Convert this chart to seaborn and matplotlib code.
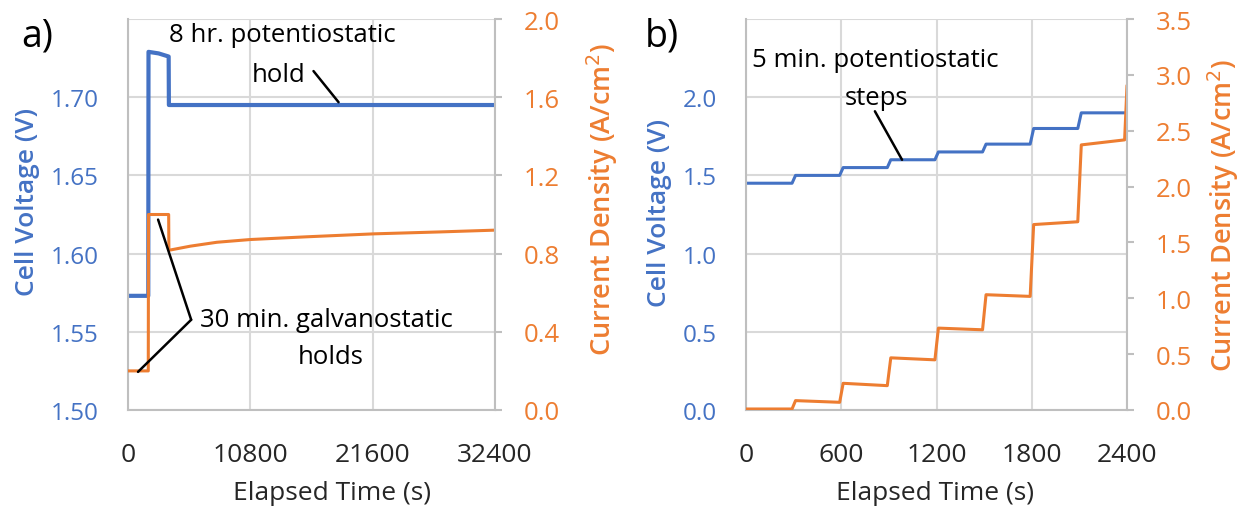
import matplotlib
matplotlib.use("Agg")
import matplotlib.pyplot as plt
import seaborn as sns
import pandas as pd

# ---------------- data ----------------
# panel a: potentiostatic / galvanostatic holds
time_a_voltage = [0, 600, 1200, 1790, 1810, 2700, 3590, 3610, 8000, 16000, 24000, 32400]
voltage_a = [1.573, 1.573, 1.573, 1.573, 1.729, 1.728, 1.726, 1.695, 1.695, 1.695, 1.695, 1.695]
time_a_current = [0, 1790, 1810, 3590, 3610, 5500, 7850, 10800, 15800, 21700, 27600, 32400]
current_a = [0.2, 0.2, 1.0, 1.0, 0.817, 0.838, 0.858, 0.872, 0.886, 0.901, 0.911, 0.92]

# panel b: 5 min potentiostatic steps
time_b = [0, 290, 312, 590, 612, 890, 912, 1190, 1212, 1490, 1512, 1790, 1812,
          2090, 2112, 2385, 2400]
voltage_b = [1.45, 1.45, 1.50, 1.50, 1.55, 1.55, 1.60, 1.60, 1.65, 1.65, 1.70, 1.70,
             1.80, 1.80, 1.90, 1.90, None]
current_b = [0.009, 0.009, 0.084, 0.069, 0.239, 0.218, 0.467, 0.449, 0.733, 0.718,
             1.032, 1.017, 1.66, 1.685, 2.373, 2.418, 2.905]

xticks_a = [0, 10800, 21600, 32400]
xticks_b = [0, 600, 1200, 1800, 2400]
yticks_a_left = [1.50, 1.55, 1.60, 1.65, 1.70, 1.75]
yticks_a_right = [0.0, 0.4, 0.8, 1.2, 1.6, 2.0]
yticks_b_left = [0.0, 0.5, 1.0, 1.5, 2.0, 2.5]
yticks_b_right = [0.0, 0.5, 1.0, 1.5, 2.0, 2.5, 3.0, 3.5]

# ---------------- style ----------------
sns.set_theme(style="white")
plt.rcParams['font.family'] = ['Open Sans', 'DejaVu Sans']

BLUE = '#4472C4'
ORANGE = '#ED7D31'
GRID = '#D9D9D9'
SPINE = '#BFBFBF'

fig = plt.figure(figsize=(12.42, 5.10), dpi=100)
axA = fig.add_axes([128 / 1242, 99 / 510, 367 / 1242, 391 / 510])
axB = fig.add_axes([746 / 1242, 99 / 510, 381 / 1242, 391 / 510])


def style_pair(ax, axr, xticks, yl, yr, xlim, ylim_l, ylim_r, lfmt, rfmt, xlab_x, ylab_x, rlab_x, ylab_y, rlab_y):
    ax.set_xlim(*xlim)
    ax.set_ylim(*ylim_l)
    axr.set_ylim(*ylim_r)
    ax.set_xticks(xticks)
    ax.set_xticklabels([str(v) for v in xticks], fontsize=19)
    ax.set_yticks(yl)
    ax.set_yticklabels([lfmt.format(v) for v in yl[:-1]] + [''], fontsize=17.5, color=BLUE)
    axr.set_yticks(yr)
    axr.set_yticklabels([rfmt.format(v) for v in yr], fontsize=18.5, color=ORANGE)
    ax.grid(True, color=GRID, linewidth=1.5)
    axr.grid(False)
    for s in ['top', 'right']:
        ax.spines[s].set_visible(False)
    ax.spines['left'].set_color(SPINE)
    ax.spines['bottom'].set_color(SPINE)
    ax.spines['left'].set_linewidth(1.5)
    ax.spines['bottom'].set_linewidth(1.5)
    for s in ['top', 'left', 'bottom']:
        axr.spines[s].set_visible(False)
    axr.spines['right'].set_color(SPINE)
    axr.spines['right'].set_linewidth(1.5)
    ax.tick_params(axis='x', length=0, pad=23)
    ax.tick_params(axis='y', length=0, pad=21)
    axr.tick_params(axis='y', length=5, width=1.5, color=SPINE, pad=16)
    ax.set_xlabel('Elapsed Time (s)', fontsize=19)
    ax.xaxis.set_label_coords(xlab_x, -0.21)
    ax.xaxis.label.set_va('center')
    ax.set_ylabel('Cell Voltage (V)', fontsize=19, color=BLUE, fontweight='semibold')
    ax.yaxis.set_label_coords(ylab_x, ylab_y)
    ax.yaxis.label.set_va('center')
    axr.set_ylabel('Current Density (A/cm$^2$)', fontsize=19.5, color=ORANGE,
                   fontweight='semibold', rotation=90)
    axr.yaxis.set_label_coords(rlab_x, rlab_y)
    axr.yaxis.label.set_va('center')
    ax.set_facecolor('none')
    axr.set_facecolor('none')


# ---------------- panel a ----------------
dfa_v = pd.DataFrame({'t': time_a_voltage, 'v': voltage_a})
dfa_i = pd.DataFrame({'t': time_a_current, 'i': current_a})
axAr = axA.twinx()
sns.lineplot(data=dfa_v, x='t', y='v', ax=axA, color=BLUE, linewidth=3.0,
             estimator=None, sort=False)
sns.lineplot(data=dfa_i, x='t', y='i', ax=axAr, color=ORANGE, linewidth=2.2,
             estimator=None, sort=False)
style_pair(axA, axAr, xticks_a, yticks_a_left, yticks_a_right, (0, 32400), (1.50, 1.75), (0, 2.0),
           '{:.2f}', '{:.1f}', 0.556, -0.275, 1.292, 0.535, 0.54)

ANN = 18.5
line_kw = dict(arrowstyle='-', color='black', lw=1.8, shrinkA=0, shrinkB=0)
axA.text(13633, 1.7398, '8 hr. potentiostatic', ha='center', va='center', fontsize=ANN, color='black')
axA.text(13300, 1.7148, 'hold', ha='center', va='center', fontsize=ANN, color='black')
axA.annotate('', xy=(18590, 1.6968), xytext=(16377, 1.7167), arrowprops=line_kw)

axAr.text(17500, 0.465, '30 min. galvanostatic', ha='center', va='center', fontsize=ANN, color='black')
axAr.text(17900, 0.275, 'holds', ha='center', va='center', fontsize=ANN, color='black')
axAr.annotate('', xy=(2656, 0.974), xytext=(5577, 0.4615), arrowprops=line_kw)
axAr.annotate('', xy=(885, 0.195), xytext=(5577, 0.4615), arrowprops=line_kw)

# ---------------- panel b ----------------
dfb = pd.DataFrame({'t': time_b, 'v': voltage_b, 'i': current_b})
axBr = axB.twinx()
sns.lineplot(data=dfb.dropna(), x='t', y='v', ax=axB, color=BLUE, linewidth=2.2,
             estimator=None, sort=False)
sns.lineplot(data=dfb, x='t', y='i', ax=axBr, color=ORANGE, linewidth=2.2,
             estimator=None, sort=False)
style_pair(axB, axBr, xticks_b, yticks_b_left, yticks_b_right, (0, 2400), (0, 2.5), (0, 3.5),
           '{:.1f}', '{:.1f}', 0.496, -0.226, 1.252, 0.506, 0.50)

axB.text(815, 2.239, '5 min. potentiostatic', ha='center', va='center', fontsize=ANN, color='black')
axB.text(822, 2.0, 'steps', ha='center', va='center', fontsize=ANN, color='black')
axB.annotate('', xy=(983, 1.60), xytext=(812, 1.91), arrowprops=line_kw)

# panel letters
fig.text(37 / 1242, 1 - 36 / 510, 'a)', fontsize=27, ha='center', va='center', color='black')
fig.text(662 / 1242, 1 - 36 / 510, 'b)', fontsize=27, ha='center', va='center', color='black')

fig.savefig('out.png', dpi=100)
